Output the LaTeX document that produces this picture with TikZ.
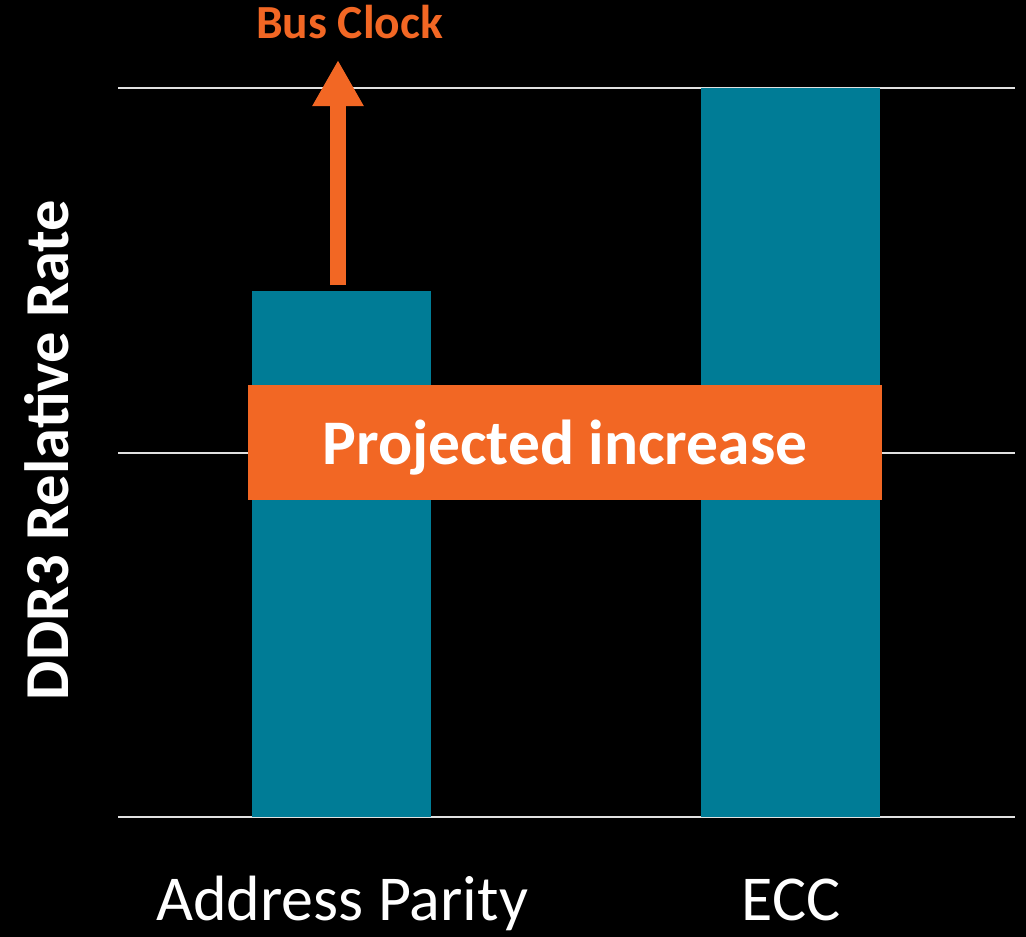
\documentclass[tikz,border=0pt]{standalone}
\usepackage{fontspec}
\setmainfont{Carlito}
\usetikzlibrary{arrows.meta}
\definecolor{barteal}{RGB}{0,124,150}
\definecolor{hiorange}{RGB}{242,103,36}
\definecolor{gridgrey}{RGB}{225,225,225}
\begin{document}
\begin{tikzpicture}[x=1pt,y=-1pt,
  gridline/.style={draw=gridgrey,line width=2.5pt},
  bar/.style={fill=barteal,inner sep=0pt,minimum width=179pt,anchor=south west},
  banner/.style={fill=hiorange,inner sep=0pt,minimum width=634pt,minimum height=115pt},
  axislabel/.style={text=white,font=\bfseries\fontsize{62.5}{62.5}\selectfont},
  catlabel/.style={text=white,font=\fontsize{64}{64}\selectfont,anchor=base},
  upshaft/.style={draw=hiorange,line width=16pt,-{Triangle[width=48pt,length=46pt]}}]
  % canvas
  \fill[black] (0,0) rectangle (1026,937);
  \useasboundingbox (0,0) rectangle (1026,937);
  % horizontal grid lines
  \draw[gridline] (118,88) -- (1015,88);
  \draw[gridline] (118,453) -- (1015,453);
  \draw[gridline] (118,817) -- (1015,817);
  % bars
  \node[bar,minimum height=526pt] (parity) at (252,817) {};
  \node[bar,minimum height=729pt] (ecc) at (701,817) {};
  % increase arrow above the parity bar
  \coordinate (arrowfoot) at (338,285);
  \coordinate (arrowtip) at (338,60);
  \draw[upshaft] (arrowfoot) -- (arrowtip);
  \node[text=hiorange,font=\bfseries\fontsize{47.5}{47.5}\selectfont,anchor=base] (busclock) at (349.5,38) {Bus Clock};
  % banner across both bars
  \node[banner] (increase) at (565,442.5) {};
  \node[text=white,font=\bfseries\fontsize{63.5}{63.5}\selectfont,anchor=base] (increasetext) at (565,464) {Projected increase};
  % axis and category labels
  \node[axislabel,rotate=90,anchor=base] (ylabel) at (68,450) {DDR3 Relative Rate};
  \node[catlabel] (parityname) at (342,920) {Address Parity};
  \node[catlabel] (eccname) at (791,920) {ECC};
\end{tikzpicture}
\end{document}
